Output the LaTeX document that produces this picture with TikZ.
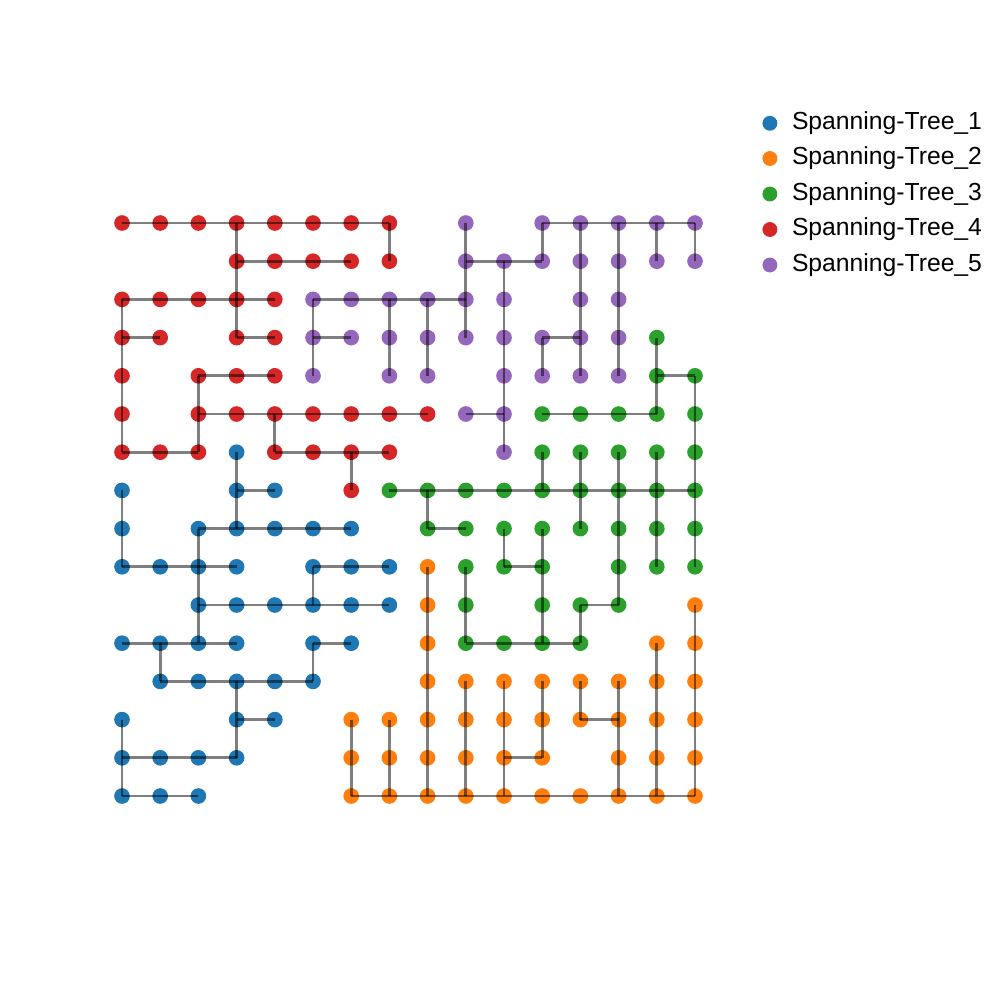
\documentclass[tikz,border=0pt]{standalone}
\usepackage{fontspec}
\setmainfont{Liberation Sans}
\usepackage{tikz}
\usetikzlibrary{positioning}
\definecolor{TreeBlue}{HTML}{1F77B4}
\definecolor{TreeOrange}{HTML}{FF7F0E}
\definecolor{TreeGreen}{HTML}{2CA02C}
\definecolor{TreeRed}{HTML}{D62728}
\definecolor{TreePurple}{HTML}{9467BD}

\begin{document}
\begin{tikzpicture}[x=1cm, y=-1cm,
  vertex/.style={circle, fill, inner sep=0pt, minimum size=0.41cm},
  keydot/.style={circle, fill, inner sep=0pt, minimum size=0.39cm},
  link/.style={black, opacity=0.5, line width=2.2pt},
  keytext/.style={inner sep=0pt, anchor=west, font=\fontsize{18.4}{22}\selectfont}]
\useasboundingbox (-3.194,-5.838) rectangle (22.984,20.340);

% tree 1 (blue)
\foreach \r/\cols in {6/{3}, 7/{0,3,4}, 8/{0,2,3,4,5,6}, 9/{0,1,2,3,5,6,7},
  10/{2,3,4,5,6,7}, 11/{0,1,2,3,5,6}, 12/{1,2,3,4,5}, 13/{0,3,4},
  14/{0,1,2,3}, 15/{0,1,2}}
  \foreach \c in \cols
    \node[vertex, TreeBlue] (n\c-\r) at (\c,\r) {};

% tree 2 (orange)
\foreach \r/\cols in {9/{8}, 10/{8,15}, 11/{8,14,15}, 12/{8,9,10,11,12,13,14,15},
  13/{6,7,8,9,10,11,12,13,14,15}, 14/{6,7,8,9,10,11,13,14,15},
  15/{6,7,8,9,10,11,12,13,14,15}}
  \foreach \c in \cols
    \node[vertex, TreeOrange] (n\c-\r) at (\c,\r) {};

% tree 3 (green)
\foreach \r/\cols in {3/{14}, 4/{14,15}, 5/{11,12,13,14,15}, 6/{11,12,13,14,15},
  7/{7,8,9,10,11,12,13,14,15}, 8/{8,9,10,11,12,13,14,15},
  9/{9,10,11,13,14,15}, 10/{9,11,12,13}, 11/{9,10,11,12}}
  \foreach \c in \cols
    \node[vertex, TreeGreen] (n\c-\r) at (\c,\r) {};

% tree 4 (red)
\foreach \r/\cols in {0/{0,1,2,3,4,5,6,7}, 1/{3,4,5,6,7}, 2/{0,1,2,3,4},
  3/{0,1,3,4}, 4/{0,2,3,4}, 5/{0,2,3,4,5,6,7,8}, 6/{0,1,2,4,5,6,7}, 7/{6}}
  \foreach \c in \cols
    \node[vertex, TreeRed] (n\c-\r) at (\c,\r) {};

% tree 5 (purple)
\foreach \r/\cols in {0/{9,11,12,13,14,15}, 1/{9,10,11,12,13,14,15},
  2/{5,6,7,8,9,10,12,13}, 3/{5,6,7,8,9,10,11,12,13},
  4/{5,7,8,10,11,12,13}, 5/{9,10}, 6/{10}}
  \foreach \c in \cols
    \node[vertex, TreePurple] (n\c-\r) at (\c,\r) {};

% edges of tree 1
\foreach \a/\b in {3-6/3-7, 3-7/3-8, 3-7/4-7, 0-7/0-8, 0-8/0-9,
  2-8/3-8, 3-8/4-8, 4-8/5-8, 5-8/6-8, 2-8/2-9,
  0-9/1-9, 1-9/2-9, 2-9/3-9, 5-9/6-9, 6-9/7-9, 2-9/2-10, 5-9/5-10,
  2-10/3-10, 3-10/4-10, 4-10/5-10, 5-10/6-10, 6-10/7-10, 2-10/2-11,
  0-11/1-11, 1-11/2-11, 2-11/3-11, 5-11/6-11, 1-11/1-12, 5-11/5-12,
  1-12/2-12, 2-12/3-12, 3-12/4-12, 4-12/5-12, 3-12/3-13,
  3-13/4-13, 3-13/3-14, 0-13/0-14,
  0-14/1-14, 1-14/2-14, 2-14/3-14, 0-14/0-15, 0-15/1-15, 1-15/2-15}
  \draw[link] (n\a.center) -- (n\b.center);

% edges of tree 2
\foreach \a/\b in {8-9/8-10, 8-10/8-11, 8-11/8-12, 8-12/8-13, 8-13/8-14, 8-14/8-15,
  15-10/15-11, 15-11/15-12, 15-12/15-13, 15-13/15-14, 15-14/15-15,
  14-11/14-12, 14-12/14-13, 14-13/14-14, 14-14/14-15,
  9-12/9-13, 9-13/9-14, 9-14/9-15, 10-12/10-13, 10-13/10-14, 10-14/10-15,
  11-12/11-13, 11-13/11-14, 10-14/11-14, 12-12/12-13, 12-13/13-13,
  13-12/13-13, 13-13/13-14, 13-14/13-15,
  6-13/6-14, 6-14/6-15, 7-13/7-14, 7-14/7-15,
  6-15/7-15, 7-15/8-15, 8-15/9-15, 9-15/10-15, 10-15/11-15,
  11-15/12-15, 12-15/13-15, 13-15/14-15, 14-15/15-15}
  \draw[link] (n\a.center) -- (n\b.center);

% edges of tree 3
\foreach \a/\b in {14-3/14-4, 14-4/15-4, 14-4/14-5, 11-5/12-5, 12-5/13-5, 13-5/14-5,
  15-4/15-5, 15-5/15-6, 15-6/15-7, 15-7/15-8, 15-8/15-9,
  11-6/11-7, 12-6/12-7, 12-7/12-8, 13-6/13-7, 13-7/13-8, 13-8/13-9, 13-9/13-10,
  14-6/14-7, 14-7/14-8, 14-8/14-9,
  7-7/8-7, 8-7/9-7, 9-7/10-7, 10-7/11-7, 11-7/12-7, 12-7/13-7, 13-7/14-7, 14-7/15-7,
  8-7/8-8, 8-8/9-8, 10-8/10-9, 10-9/11-9, 11-8/11-9, 11-9/11-10, 11-10/11-11,
  9-9/9-10, 9-10/9-11, 9-11/10-11, 10-11/11-11, 11-11/12-11, 12-10/12-11, 12-10/13-10}
  \draw[link] (n\a.center) -- (n\b.center);

% edges of tree 4
\foreach \a/\b in {0-0/1-0, 1-0/2-0, 2-0/3-0, 3-0/4-0, 4-0/5-0, 5-0/6-0, 6-0/7-0,
  3-0/3-1, 7-0/7-1, 3-1/4-1, 4-1/5-1, 5-1/6-1, 3-1/3-2,
  0-2/1-2, 1-2/2-2, 2-2/3-2, 3-2/4-2, 3-2/3-3, 0-2/0-3,
  0-3/1-3, 3-3/4-3, 0-3/0-4, 2-4/3-4, 3-4/4-4, 2-4/2-5, 0-4/0-5,
  2-5/3-5, 3-5/4-5, 4-5/5-5, 5-5/6-5, 6-5/7-5, 7-5/8-5, 2-5/2-6, 4-5/4-6, 0-5/0-6,
  0-6/1-6, 1-6/2-6, 4-6/5-6, 5-6/6-6, 6-6/7-6, 6-6/6-7}
  \draw[link] (n\a.center) -- (n\b.center);

% edges of tree 5
\foreach \a/\b in {11-0/12-0, 12-0/13-0, 13-0/14-0, 14-0/15-0,
  9-0/9-1, 11-0/11-1, 14-0/14-1, 15-0/15-1,
  12-0/12-1, 12-1/12-2, 12-2/12-3, 12-3/12-4, 13-0/13-1, 13-1/13-2, 13-2/13-3, 13-3/13-4,
  9-1/10-1, 10-1/11-1, 9-1/9-2, 9-2/9-3,
  10-1/10-2, 10-2/10-3, 10-3/10-4, 10-4/10-5, 10-5/10-6,
  5-2/6-2, 6-2/7-2, 7-2/8-2, 8-2/9-2,
  5-2/5-3, 5-3/5-4, 7-2/7-3, 7-3/7-4, 8-2/8-3, 8-3/8-4,
  5-3/6-3, 11-3/12-3, 11-3/11-4, 9-5/10-5}
  \draw[link] (n\a.center) -- (n\b.center);

% legend
\foreach \i/\col/\y in {1/TreeBlue/-2.610, 2/TreeOrange/-1.689, 3/TreeGreen/-0.759,
  4/TreeRed/0.170, 5/TreePurple/1.099} {
  \node[keydot, \col] (key\i) at (16.96,\y) {};
  \node[keytext, right=0.37cm of key\i] (label\i) {Spanning-Tree\_\i};
}
\end{tikzpicture}
\end{document}
